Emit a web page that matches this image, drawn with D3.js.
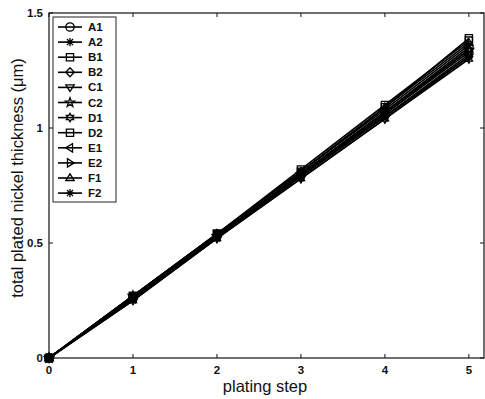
<!DOCTYPE html>
<html><head><meta charset="utf-8">
<script src="https://cdn.jsdelivr.net/npm/d3@7"></script>
<style>body{margin:0;background:#fff}svg{display:block}text{font-family:"Liberation Sans",Arial,sans-serif;fill:#111}</style>
</head><body><svg id="c" width="485" height="399"></svg>
<script>
const steps = [0, 1, 2, 3, 4, 5];
const seriesNames = ["A1","A2","B1","B2","C1","C2","D1","D2","E1","E2","F1","F2"];
const markerKinds = ["circle","asterisk","square","diamond","tridown","pentagram","hexagram","square","trileft","triright","triup","asterisk"];
const A1 = [0, 0.26, 0.53, 0.80, 1.07, 1.35];
const A2 = [0, 0.27, 0.54, 0.81, 1.08, 1.36];
const B1 = [0, 0.27, 0.54, 0.81, 1.09, 1.39];
const B2 = [0, 0.26, 0.53, 0.79, 1.06, 1.33];
const C1 = [0, 0.26, 0.52, 0.78, 1.04, 1.31];
const C2 = [0, 0.27, 0.53, 0.80, 1.07, 1.34];
const D1 = [0, 0.25, 0.52, 0.78, 1.04, 1.30];
const D2 = [0, 0.27, 0.54, 0.82, 1.10, 1.38];
const E1 = [0, 0.26, 0.53, 0.79, 1.05, 1.32];
const E2 = [0, 0.26, 0.53, 0.80, 1.06, 1.34];
const F1 = [0, 0.27, 0.54, 0.81, 1.09, 1.37];
const F2 = [0, 0.25, 0.52, 0.79, 1.05, 1.31];
const seriesValues = [A1,A2,B1,B2,C1,C2,D1,D2,E1,E2,F1,F2];
const xTicks = [0,1,2,3,4,5];
const yTicks = [0,0.5,1,1.5];
const yTickLabels = ["0","0.5","1","1.5"];
const xLabel = "plating step";
const yLabel = "total plated nickel thickness (\u03bcm)";

const svg = d3.select("#c");
const L = 49, R = 484, T = 13, B = 358;
const x = d3.scaleLinear().domain([0, 5.18]).range([L, R]);
const y = d3.scaleLinear().domain([0, 1.5]).range([B, T]);

function poly(pts){ return "M" + pts.map(p => p[0].toFixed(2)+","+p[1].toFixed(2)).join("L") + "Z"; }
function star(n, ro, ri){ const pts=[]; for(let i=0;i<2*n;i++){const a=-Math.PI/2+i*Math.PI/n; const r=i%2?ri:ro; pts.push([r*Math.cos(a), r*Math.sin(a)]);} return poly(pts); }
function markerPath(kind){
  const r = 4.2;
  switch(kind){
    case "circle": return d3.symbol(d3.symbolCircle, Math.PI*r*r)();
    case "square": return poly([[-r+0.6,-r+0.6],[r-0.6,-r+0.6],[r-0.6,r-0.6],[-r+0.6,r-0.6]]);
    case "diamond": return poly([[0,-r-0.3],[r,0],[0,r+0.3],[-r,0]]);
    case "tridown": return poly([[-r,-r*0.6],[r,-r*0.6],[0,r]]);
    case "triup": return poly([[-r,r*0.6],[r,r*0.6],[0,-r]]);
    case "trileft": return poly([[r*0.6,-r],[r*0.6,r],[-r,0]]);
    case "triright": return poly([[-r*0.6,-r],[-r*0.6,r],[r,0]]);
    case "pentagram": return star(5, r+0.6, (r+0.6)*0.4);
    case "hexagram": return star(6, r, r*0.58);
    case "asterisk": { const a=r, b=r*0.72; return `M${-a},0L${a},0M0,${-a}L0,${a}M${-b},${-b}L${b},${b}M${-b},${b}L${b},${-b}`; }
  }
}

// axes box
const g = svg.append("g");
g.append("rect").attr("x", L).attr("y", T).attr("width", R-L).attr("height", B-T)
  .attr("fill","none").attr("stroke","#111").attr("stroke-width",1.2);

// ticks (inward on all sides)
const tl = 4;
xTicks.forEach(t => {
  g.append("line").attr("x1",x(t)).attr("x2",x(t)).attr("y1",B).attr("y2",B-tl).attr("stroke","#111");
  g.append("line").attr("x1",x(t)).attr("x2",x(t)).attr("y1",T).attr("y2",T+tl).attr("stroke","#111");
  g.append("text").attr("x",x(t)).attr("y",B+16).attr("text-anchor","middle")
    .attr("font-size",11.5).attr("font-weight","bold").text(t);
});
yTicks.forEach((t,i) => {
  g.append("line").attr("x1",L).attr("x2",L+tl).attr("y1",y(t)).attr("y2",y(t)).attr("stroke","#111");
  g.append("line").attr("x1",R).attr("x2",R-tl).attr("y1",y(t)).attr("y2",y(t)).attr("stroke","#111");
  g.append("text").attr("x",L-6).attr("y",y(t)+4).attr("text-anchor","end")
    .attr("font-size",11.5).attr("font-weight","bold").text(yTickLabels[i]);
});

// axis labels
svg.append("text").attr("x", 265).attr("y", 392).attr("text-anchor","middle").attr("font-size",16.5).text(xLabel);
svg.append("text").attr("transform","translate(23,178) rotate(-90)").attr("text-anchor","middle").attr("font-size",16.5).text(yLabel);

// series
const line = d3.line().x((d,i)=>x(steps[i])).y(d=>y(d));
seriesValues.forEach((vals, si) => {
  svg.append("path").attr("d", line(vals)).attr("fill","none").attr("stroke","#000").attr("stroke-width",1.6);
});
seriesValues.forEach((vals, si) => {
  const p = markerPath(markerKinds[si]);
  vals.forEach((v,i) => {
    svg.append("path").attr("d", p).attr("transform",`translate(${x(steps[i])},${y(v)})`)
      .attr("fill","none").attr("stroke","#000").attr("stroke-width",1.3);
  });
});

// legend
const lg = svg.append("g");
const lx = 53, ly = 17, lw = 63, lh = 185, rowH = 15.1;
lg.append("rect").attr("x",lx).attr("y",ly).attr("width",lw).attr("height",lh)
  .attr("fill","#fff").attr("stroke","#222").attr("stroke-width",1);
seriesNames.forEach((n,i) => {
  const cy = ly + 10 + i*rowH;
  lg.append("line").attr("x1",lx+5).attr("x2",lx+29).attr("y1",cy).attr("y2",cy).attr("stroke","#000").attr("stroke-width",1.6);
  lg.append("path").attr("d", markerPath(markerKinds[i])).attr("transform",`translate(${lx+17},${cy})`)
    .attr("fill","none").attr("stroke","#000").attr("stroke-width",1.3);
  lg.append("text").attr("x",lx+35).attr("y",cy+4).attr("font-size",11.5).attr("font-weight","bold").text(n);
});
</script>
</body></html>
